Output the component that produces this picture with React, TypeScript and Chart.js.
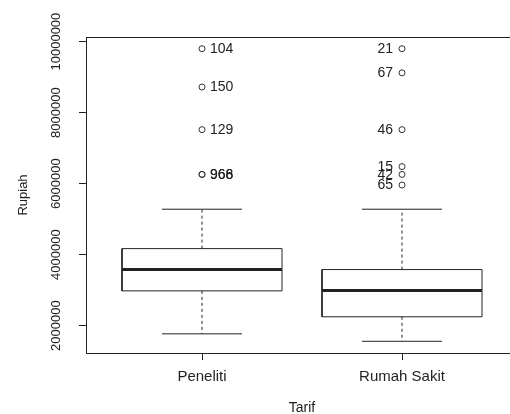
import React, { useEffect, useRef } from "react";
import { Chart, registerables } from "chart.js";

Chart.register(...registerables);

const categories = ["Peneliti", "Rumah Sakit"];
const whiskerLow = [1770000, 1560000];
const q1 = [2980000, 2250000];
const median = [3580000, 2990000];
const q3 = [4170000, 3580000];
const whiskerHigh = [5280000, 5280000];

const outliersPeneliti = [9800000, 8720000, 7520000, 6260000, 6260000];
const outlierLabelsPeneliti = ["104", "150", "129", "966", "968"];
const outliersRumahSakit = [9800000, 9120000, 7520000, 6480000, 6260000, 5960000];
const outlierLabelsRumahSakit = ["21", "67", "46", "15", "42", "65"];

const yTicks = [2000000, 4000000, 6000000, 8000000, 10000000];

const yTitle = "Rupiah";
const xTitle = "Tarif";

const FONT = "'Liberation Sans', Arial, sans-serif";
const INK = "#222";

export default function App() {
  const ref = useRef<HTMLCanvasElement | null>(null);

  useEffect(() => {
    document.body.style.margin = "0";
    const canvas = ref.current;
    if (!canvas) return;

    const boxW = 0.4;
    const capW = 0.2;

    const boxPts: any[] = [];
    const medPts: any[] = [];
    const whiskPts: any[] = [];
    const capPts: any[] = [];
    categories.forEach((_, i) => {
      const x = i + 1;
      boxPts.push(
        { x: x - boxW, y: q1[i] },
        { x: x + boxW, y: q1[i] },
        { x: x + boxW, y: q3[i] },
        { x: x - boxW, y: q3[i] },
        { x: x - boxW, y: q1[i] },
        { x: x, y: null }
      );
      medPts.push({ x: x - boxW, y: median[i] }, { x: x + boxW, y: median[i] }, { x: x, y: null });
      whiskPts.push(
        { x: x, y: q3[i] },
        { x: x, y: whiskerHigh[i] },
        { x: x, y: null },
        { x: x, y: q1[i] },
        { x: x, y: whiskerLow[i] },
        { x: x, y: null }
      );
      capPts.push(
        { x: x - capW, y: whiskerHigh[i] },
        { x: x + capW, y: whiskerHigh[i] },
        { x: x, y: null },
        { x: x - capW, y: whiskerLow[i] },
        { x: x + capW, y: whiskerLow[i] },
        { x: x, y: null }
      );
    });

    const allVals = [...whiskerLow, ...whiskerHigh, ...outliersPeneliti, ...outliersRumahSakit];
    const lo = Math.min(...allVals);
    const hi = Math.max(...allVals);
    const ext = (hi - lo) * 0.04;

    const lineDs = (data: any[], width: number, dash: number[] = []) => ({
      data,
      showLine: true,
      spanGaps: false,
      borderColor: INK,
      borderWidth: width,
      borderDash: dash,
      pointRadius: 0,
      pointHoverRadius: 0,
      fill: false,
    });

    const outDs = (vals: number[], x: number, labels: string[], side: string) => ({
      data: vals.map((v) => ({ x, y: v })),
      showLine: false,
      pointStyle: "circle",
      pointRadius: 3,
      borderWidth: 1,
      borderColor: "#333",
      backgroundColor: "rgba(0,0,0,0)",
      outLabels: labels,
      outSide: side,
    });

    const textPlugin = {
      id: "rtext",
      afterDraw(chart: any) {
        const ctx = chart.ctx;
        const a = chart.chartArea;
        const ys = chart.scales.y;
        const xs = chart.scales.x;
        ctx.save();
        // top frame line
        ctx.strokeStyle = INK;
        ctx.lineWidth = 1;
        ctx.beginPath();
        ctx.moveTo(a.left, Math.round(a.top) + 0.5);
        ctx.lineTo(chart.width, Math.round(a.top) + 0.5);
        ctx.stroke();

        ctx.fillStyle = INK;
        // y tick labels rotated
        ctx.font = `13px ${FONT}`;
        ctx.textAlign = "center";
        ctx.textBaseline = "middle";
        yTicks.forEach((v) => {
          const py = ys.getPixelForValue(v);
          ctx.save();
          ctx.translate(56, py);
          ctx.rotate(-Math.PI / 2);
          ctx.fillText(String(v), 0, 0);
          ctx.restore();
        });
        // y title
        ctx.save();
        ctx.translate(23, (a.top + a.bottom) / 2);
        ctx.rotate(-Math.PI / 2);
        ctx.fillText(yTitle, 0, 0);
        ctx.restore();
        // x title
        ctx.font = `14px ${FONT}`;
        ctx.fillText(xTitle, xs.getPixelForValue(1.5), 408);

        // outlier labels
        ctx.font = `14px ${FONT}`;
        chart.data.datasets.forEach((ds: any, di: number) => {
          if (!ds.outLabels) return;
          const meta = chart.getDatasetMeta(di);
          meta.data.forEach((pt: any, k: number) => {
            if (ds.outSide === "right") {
              ctx.textAlign = "left";
              ctx.fillText(ds.outLabels[k], pt.x + 8, pt.y + 0.5);
            } else {
              ctx.textAlign = "right";
              ctx.fillText(ds.outLabels[k], pt.x - 9, pt.y + 0.5);
            }
          });
        });
        ctx.restore();
      },
    };

    const chart = new Chart(canvas, {
      type: "scatter",
      data: {
        datasets: [
          lineDs(whiskPts, 1, [3, 3]),
          lineDs(capPts, 1),
          lineDs(boxPts, 1),
          lineDs(medPts, 3),
          outDs(outliersPeneliti, 1, outlierLabelsPeneliti, "right"),
          outDs(outliersRumahSakit, 2, outlierLabelsRumahSakit, "left"),
        ] as any,
      },
      options: {
        responsive: false,
        animation: false,
        devicePixelRatio: 1,
        layout: { autoPadding: false, padding: { top: 37, right: 0, left: 0, bottom: 0 } },
        plugins: { legend: { display: false }, tooltip: { enabled: false } },
        events: [],
        scales: {
          x: {
            type: "linear",
            min: 0.42,
            max: 2.54,
            afterBuildTicks: (s: any) => {
              s.ticks = categories.map((_, i) => ({ value: i + 1 }));
            },
            afterFit: (s: any) => {
              s.height = 61;
              s.paddingLeft = 0;
              s.paddingRight = 0;
            },
            ticks: {
              autoSkip: false,
              maxRotation: 0,
              minRotation: 0,
              padding: 8,
              color: INK,
              font: { family: FONT, size: 15 },
              callback: (v: any) => categories[Number(v) - 1] ?? "",
            },
            grid: {
              display: true,
              drawOnChartArea: false,
              drawTicks: true,
              tickLength: 7,
              color: INK,
              lineWidth: 1,
            },
            border: { display: true, color: INK, width: 1 },
          },
          y: {
            type: "linear",
            min: lo - ext,
            max: hi + ext,
            afterBuildTicks: (s: any) => {
              s.ticks = yTicks.map((v) => ({ value: v }));
            },
            afterFit: (s: any) => {
              s.width = 86;
              s.paddingTop = 0;
              s.paddingBottom = 0;
            },
            ticks: { display: false },
            grid: {
              display: true,
              drawOnChartArea: false,
              drawTicks: true,
              tickLength: 7,
              color: INK,
              lineWidth: 1,
            },
            border: { display: true, color: INK, width: 1 },
          },
        },
      } as any,
      plugins: [textPlugin],
    });

    return () => chart.destroy();
  }, []);

  return (
    <div style={{ width: 510, height: 414, background: "#fff", overflow: "hidden" }}>
      <canvas ref={ref} width={510} height={414} style={{ display: "block" }} />
    </div>
  );
}
